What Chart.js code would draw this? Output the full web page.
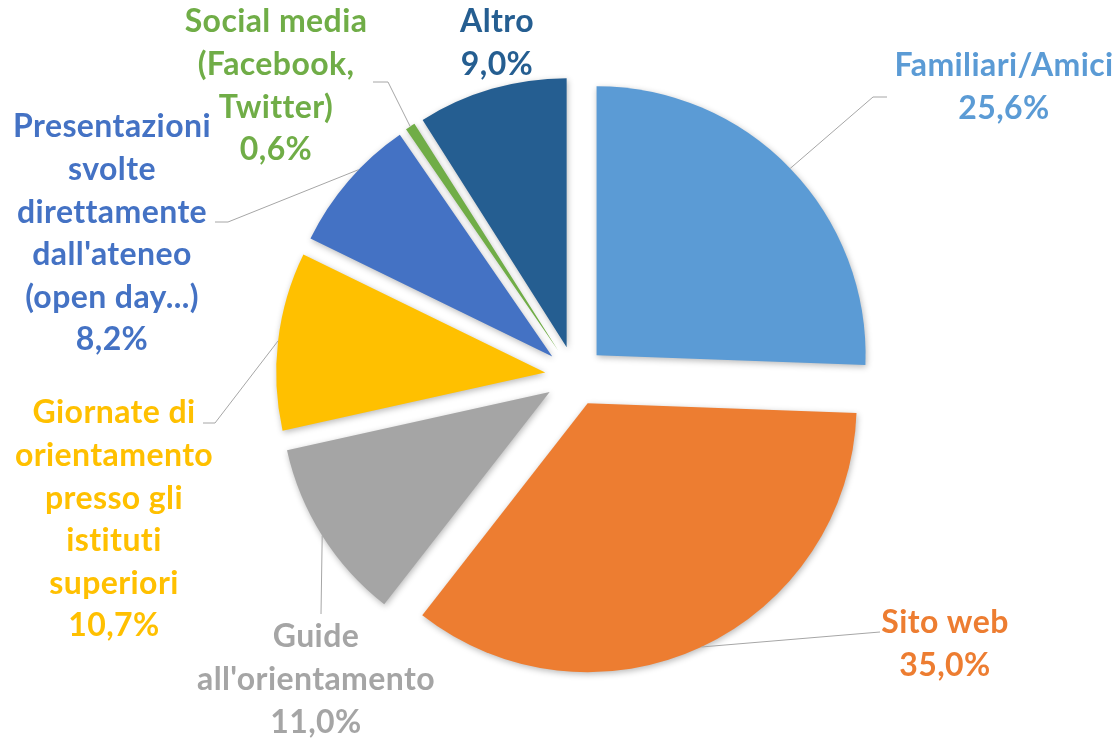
<!DOCTYPE html>
<html lang="it">
<head>
<meta charset="utf-8">
<title>Canali di informazione</title>
<script src="https://cdn.jsdelivr.net/npm/chart.js@4.4.0/dist/chart.umd.min.js"></script>
<style>
  html, body { margin: 0; padding: 0; background: #fff; }
  #wrap { width: 1115px; height: 739px; position: relative; }
</style>
</head>
<body>
<div id="wrap"><canvas id="torta"></canvas></div>
<script>
// dati
const categories = [
  ["Familiari/Amici"],
  ["Sito web"],
  ["Guide", "all'orientamento"],
  ["Giornate di", "orientamento", "presso gli", "istituti", "superiori"],
  ["Presentazioni", "svolte", "direttamente", "dall'ateneo", "(open day...)"],
  ["Social media", "(Facebook,", "Twitter)"],
  ["Altro"]
];
const values = [25.6, 35.0, 11.0, 10.7, 8.2, 0.6, 9.0];
const colors = ["#5B9BD5", "#ED7D31", "#A5A5A5", "#FFC000", "#4472C4", "#70AD47", "#255E91"];

// posizione etichette e linee guida (layout)
const labelLayout = [
  { x: 1004, y: 66,  at: 0.5,  line: [[873, 97], [887, 97]] },
  { x: 945,  y: 623, at: 0.5,  line: [[880, 632]] },
  { x: 316,  y: 637, at: 0.5,  line: [[321, 614]] },
  { x: 114,  y: 413, at: 0.5,  line: [[215, 423], [203, 423]] },
  { x: 112,  y: 127, at: 0.61, line: [[228, 222], [215, 222]] },
  { x: 276,  y: 22,  at: 0.5,  line: [[388, 82], [373, 82]] },
  { x: 497,  y: 22,  at: 0.5,  line: null }
];

const EXPLODE = 30;
const LINE_H = 42.6;
const FONT = "bold 32px Lato, 'Open Sans', sans-serif";

function pct(v) {
  return v.toFixed(1).replace(".", ",") + "%";
}

// disegna le fette staccate dal centro
const esploso = {
  id: "esploso",
  beforeDatasetDraw(chart, args) {
    const ctx = chart.ctx;
    args.meta.data.forEach(function (arc) {
      const mid = (arc.startAngle + arc.endAngle) / 2;
      ctx.save();
      ctx.translate(Math.cos(mid) * EXPLODE, Math.sin(mid) * EXPLODE);
      ctx.shadowColor = "rgba(0,0,0,0.28)";
      ctx.shadowBlur = 6;
      ctx.shadowOffsetX = 1;
      ctx.shadowOffsetY = 2;
      arc.draw(ctx);
      ctx.restore();
    });
    return false;
  }
};

// etichette con linee guida
const etichette = {
  id: "etichette",
  afterDatasetsDraw(chart) {
    const ctx = chart.ctx;
    const meta = chart.getDatasetMeta(0);
    meta.data.forEach(function (arc, i) {
      const lay = labelLayout[i];
      const mid = (arc.startAngle + arc.endAngle) / 2;
      const cx = arc.x + Math.cos(mid) * EXPLODE;
      const cy = arc.y + Math.sin(mid) * EXPLODE;

      if (lay.line) {
        const a = arc.startAngle + (arc.endAngle - arc.startAngle) * lay.at;
        ctx.save();
        ctx.strokeStyle = "#A6A6A6";
        ctx.lineWidth = 1;
        ctx.beginPath();
        ctx.moveTo(cx + Math.cos(a) * arc.outerRadius, cy + Math.sin(a) * arc.outerRadius);
        lay.line.forEach(function (p) { ctx.lineTo(p[0], p[1]); });
        ctx.stroke();
        ctx.restore();
      }

      const lines = categories[i].concat([pct(values[i])]);
      ctx.save();
      ctx.font = FONT;
      ctx.letterSpacing = "0.4px"; // niente legature "ti"
      ctx.fillStyle = colors[i];
      ctx.textAlign = "center";
      ctx.textBaseline = "middle";
      lines.forEach(function (t, k) {
        ctx.fillText(t, lay.x, lay.y + k * LINE_H);
      });
      ctx.restore();
    });
  }
};

const ctx = document.getElementById("torta").getContext("2d");
const torta = new Chart(ctx, {
  type: "pie",
  data: {
    labels: categories,
    datasets: [
      {
        data: values,
        backgroundColor: colors,
        borderWidth: 0,
        radius: 269
      }
    ]
  },
  options: {
    responsive: true,
    maintainAspectRatio: false,
    animation: false,
    layout: { padding: { left: 35, top: 13, right: 0, bottom: 0 } },
    plugins: {
      legend: { display: false },
      tooltip: { enabled: false }
    }
  },
  plugins: [esploso, etichette]
});
</script>
</body>
</html>
